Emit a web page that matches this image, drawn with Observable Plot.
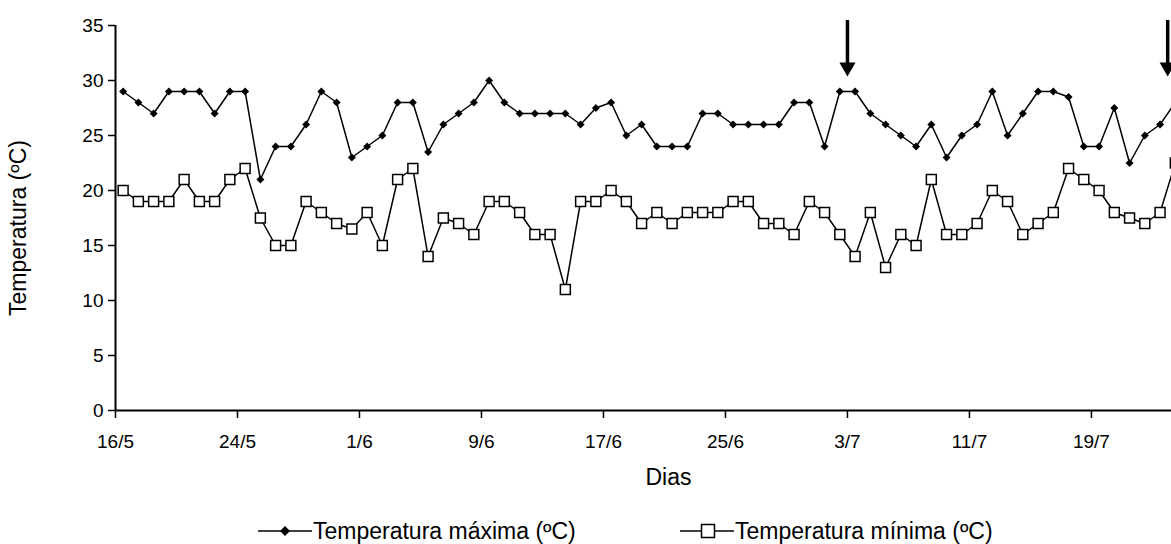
<!DOCTYPE html>
<html><head><meta charset="utf-8">
<script src="https://cdn.jsdelivr.net/npm/d3@7"></script>
<script src="https://cdn.jsdelivr.net/npm/@observablehq/plot@0.6"></script>
<style>
body{margin:0;background:#fff;overflow:hidden;font-family:"Liberation Sans",Arial,sans-serif;}
#chart{position:relative;width:1171px;height:544px;overflow:hidden;}
.legend{position:absolute;top:514px;left:0;width:1171px;height:34px;font-size:23px;color:#000;}
.item{position:absolute;top:0;height:34px;display:flex;align-items:center;white-space:nowrap;}
.item svg{display:block;margin-right:1px;}
</style></head><body><div id="chart"></div>
<script>
// ---- data ----
const startDate = "16/5";
const tickLabels = ["16/5","24/5","1/6","9/6","17/6","25/6","3/7","11/7","19/7"];
const tMax = [29,28,27,29,29,29,27,29,29,21,24,24,26,29,28,23,24,25,28,28,23.5,26,27,28,30,28,27,27,27,27,26,27.5,28,25,26,24,24,24,27,27,26,26,26,26,28,28,24,29,29,27,26,25,24,26,23,25,26,29,25,27,29,29,28.5,24,24,27.5,22.5,25,26,28];
const tMin = [20,19,19,19,21,19,19,21,22,17.5,15,15,19,18,17,16.5,18,15,21,22,14,17.5,17,16,19,19,18,16,16,11,19,19,20,19,17,18,17,18,18,18,19,19,17,17,16,19,18,16,14,18,13,16,15,21,16,16,17,20,19,16,17,18,22,21,20,18,17.5,17,18,22.5];
const seriesNames = ["Temperatura máxima (ºC)","Temperatura mínima (ºC)"];
const yTicks = [0,5,10,15,20,25,30,35];
const arrowDates = ["3/7","24/7"];
const arrowTop = 35.5, arrowTip = 30.4;
const xLabel = "Dias", yLabel = "Temperatura (ºC)";

// ---- helpers ----
function dayIndex(lbl){
  const [d,m] = lbl.split("/").map(Number);
  const [d0,m0] = startDate.split("/").map(Number);
  return (Date.UTC(2000,m-1,d) - Date.UTC(2000,m0-1,d0)) / 86400000;
}
const tickDays = tickLabels.map(dayIndex);
const maxData = tMax.map((v,i)=>({x:i+0.5,y:v}));
const minData = tMin.map((v,i)=>({x:i+0.5,y:v}));
const arrows = arrowDates.map(l=>({x:dayIndex(l), y1:arrowTop, y2:arrowTip}));

const font = "'Liberation Sans', Arial, sans-serif";
const plot = Plot.plot({
  width:1171, height:510,
  marginLeft:115, marginRight:0, marginTop:25, marginBottom:100,
  style:{fontFamily:font, fontSize:"19px", color:"black", background:"white", overflow:"visible"},
  x:{domain:[0,69.25], axis:null},
  y:{domain:[0,35], axis:null},
  marks:[
    Plot.axisY({ticks:yTicks, tickSize:7, tickPadding:5, tickFormat:d=>String(d), label:null, strokeWidth:1.5, fontSize:19}),
    Plot.axisX({ticks:tickDays, tickFormat:(d)=>tickLabels[tickDays.indexOf(d)], tickSize:8, tickPadding:16, label:null, strokeWidth:1.5, fontSize:19}),
    Plot.ruleX([0],{stroke:"black", strokeWidth:2}),
    Plot.ruleY([0],{stroke:"black", strokeWidth:2}),
    Plot.line(maxData,{x:"x", y:"y", stroke:"black", strokeWidth:1.5}),
    Plot.dot(maxData,{x:"x", y:"y", symbol:"diamond2", r:3.6, fill:"black", stroke:null}),
    Plot.line(minData,{x:"x", y:"y", stroke:"black", strokeWidth:1.5}),
    Plot.dot(minData,{x:"x", y:"y", symbol:"square", r:5.6, fill:"white", stroke:"black", strokeWidth:1.5}),
    Plot.link(arrows,{x1:"x", x2:"x", y1:"y1", y2:d=>d.y2+0.9, stroke:"black", strokeWidth:3.5}),
    Plot.dot(arrows,{x:"x", y:"y2", symbol:"triangle", r:6, fill:"black", stroke:null, rotate:180, dy:-9}),
    Plot.text([xLabel],{frameAnchor:"bottom", dx:25, dy:74, fontSize:23, fill:"black"}),
    Plot.text([yLabel],{frameAnchor:"left", dx:-97, dy:10, rotate:-90, textAnchor:"middle", fontSize:23, fill:"black"})
  ]
});
const chart = document.getElementById("chart");
chart.appendChild(plot);

// ---- legend ----
const legend = document.createElement("div");
legend.className = "legend";
const lefts = [258, 680];
seriesNames.forEach((name,i)=>{
  const it = document.createElement("div");
  it.className = "item";
  it.style.left = lefts[i] + "px";
  const marker = i===0
    ? `<path d="M27,5 L32,10 L27,15 L22,10 Z" fill="black"/>`
    : `<rect x="21.5" y="3.5" width="13" height="13" fill="white" stroke="black" stroke-width="1.5"/>`;
  it.innerHTML = `<svg width="54" height="20"><line x1="0" x2="54" y1="10" y2="10" stroke="black" stroke-width="1.5"/>${marker}</svg><span>${name}</span>`;
  legend.appendChild(it);
});
chart.appendChild(legend);
</script></body></html>
